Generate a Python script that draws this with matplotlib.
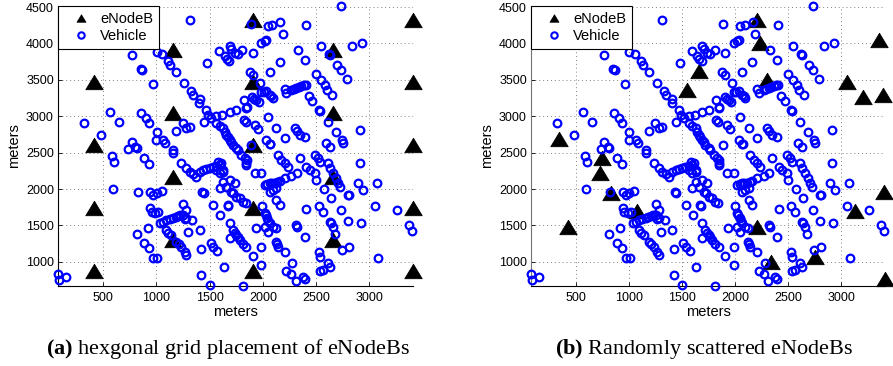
import matplotlib
matplotlib.use("Agg")
import matplotlib.pyplot as plt
from matplotlib.lines import Line2D
from matplotlib.path import Path

plt.rcParams['font.family'] = ['Liberation Sans', 'DejaVu Sans']
plt.rcParams['mathtext.fontset'] = 'custom'
plt.rcParams['mathtext.rm'] = 'Liberation Serif'
plt.rcParams['mathtext.bf'] = 'Liberation Serif:bold'

# Vehicle positions in meters (shared by both placements)
vehicles = [
    (1313, 4319), (766, 3837), (851, 3653), (862, 3632), (963, 3443),
    (1001, 3878), (1053, 3856), (1110, 3754), (1126, 3709), (1188, 3603), (1260, 3457),
    (1329, 3341), (1344, 3295), (1407, 3240), (1400, 3181), (1470, 3089), (1485, 3020), (1517, 2975),
    (1563, 2906), (1595, 2860), (1626, 2837), (1642, 2790), (1657, 2745), (1672, 2721), (1688, 2680),
    (1704, 2652), (1719, 2607), (1751, 2561), (1766, 2530), (1798, 2469), (1829, 2424), (1845, 2355),
    (1851, 2400), (1845, 2331),
    (1479, 3732), (1588, 3901),
    (1688, 3961), (1704, 3930), (1641, 3823), (1660, 3790), (1682, 3754), (1735, 3870), (1766, 3860), (1807, 3906),
    (1751, 3080), (1688, 3057), (1620, 3020), (1563, 2997), (1444, 2928),
    (319, 2914), (563, 3052), (647, 2924), (478, 2749),
    (854, 3044), (900, 2975), (931, 2914),
    (1001, 2782), (994, 2676), (1063, 2676), (1079, 2630),
    (766, 2644), (797, 2584), (734, 2552), (813, 2561),
    (1245, 2906), (1282, 2837), (1313, 2851), (1188, 2791), (1157, 2538), (1157, 2493),
    (584, 2455), (603, 2369), (882, 2424), (931, 2345), (1235, 2355),
    (1282, 2286), (1313, 2240), (1345, 2200), (1376, 2171), (1407, 2240), (1440, 2255), (1470, 2270),
    (1501, 2286), (1530, 2300), (1560, 2315), (1595, 2331), (1610, 2360), (1579, 2377), (1563, 2263),
    (1595, 2217), (1626, 2239),
    (594, 2001), (822, 1956), (938, 1964), (969, 1918), (1001, 1942), (1048, 1974),
    (1250, 1790), (1282, 1712),
    (938, 1735), (954, 1689), (985, 1666), (1016, 1689),
    (1032, 1537), (1063, 1550), (1094, 1574), (1125, 1585), (1157, 1597), (1180, 1610), (1203, 1629),
    (1225, 1640), (1250, 1643), (1282, 1606), (1266, 1590),
    (1338, 1574), (1407, 1436), (1297, 1413), (916, 1460), (813, 1377),
    (1094, 1436), (1110, 1391), (1141, 1368),
    (1188, 1275), (1210, 1240), (1235, 1207), (1266, 1138), (1282, 1092),
    (882, 1253), (931, 1184), (969, 1047), (1007, 1047),
    (1423, 1175), (1510, 1253), (1532, 1207), (1569, 1147),
    (1632, 923), (1423, 817), (1501, 675),
    (75, 831), (80, 748), (150, 785),
    (1430, 1960), (1444, 1942), (1532, 1781), (1601, 1643), (1595, 2011), (1672, 1781), (1688, 1529),
    (1688, 1331), (1690, 2125),
    (2736, 4515), (1885, 4273), (2048, 4236), (2089, 4259), (2164, 4296), (2189, 4131), (2401, 4250),
    (1986, 4007), (2017, 4030), (2033, 4043), (1907, 3870),
    (2329, 3915), (2392, 3777), (2157, 3745), (2064, 3603),
    (2548, 3961), (2620, 3856), (2632, 3843),
    (2698, 3709), (2736, 3630), (2789, 3516), (2839, 3961), (2933, 4007),
    (1876, 3603), (1907, 3571), (1970, 3457),
    (2501, 3585), (2542, 3502), (2580, 3424), (2601, 3355), (2648, 3286),
    (2204, 3374), (2220, 3319),
    (2267, 3364), (2290, 3375), (2314, 3387), (2340, 3398), (2361, 3410), (2385, 3425), (2401, 3433),
    (2432, 3273), (2464, 3203), (2526, 3080), (2532, 3068), (2611, 2919), (2683, 2782), (2745, 2676),
    (2751, 2639), (2595, 2630), (2626, 2584), (2914, 2805),
    (1986, 3328), (2010, 3335), (2033, 3341), (2064, 3290), (2080, 3272), (2095, 3250), (1939, 3226),
    (1920, 3240), (1901, 3263), (1960, 3200), (1820, 3217), (1845, 3112), (1850, 3125),
    (2048, 2988), (2126, 2837), (2204, 2700),
    (2298, 2837), (2320, 2791), (2345, 2745), (2392, 2713),
    (2033, 2680), (2070, 2617), (1923, 2883), (1954, 2823), (1820, 2942), (1839, 2928), (1885, 2600),
    (2064, 2621), (2142, 2469), (2173, 2400), (2204, 2355), (2236, 2308), (2345, 2424),
    (2408, 2308), (2439, 2263), (2486, 2217), (2501, 2125),
    (2486, 2469), (2517, 2424), (2533, 2378),
    (2611, 2355), (2626, 2286),
    (2908, 2355), (2658, 2217), (2689, 2148), (2705, 2080), (2727, 2033),
    (2798, 1918), (2810, 1925), (2892, 2080), (2939, 1988), (3075, 2085), (3049, 1772), (3261, 1712),
    (3371, 1505), (3400, 1420),
    (2573, 1996), (2642, 1871), (2523, 1767), (2564, 1689), (2408, 1721), (2730, 1712), (2798, 1565),
    (2923, 1537),
    (2626, 1551), (2642, 1529), (2658, 1482), (2673, 1381),
    (2526, 1138), (2539, 1061), (2611, 986), (2745, 1161), (2808, 1207), (3080, 1055),
    (2533, 872), (2564, 886), (2626, 923), (2392, 1336), (2314, 1505), (2323, 1474),
    (2204, 1129), (2276, 986), (2220, 876), (2267, 839), (2308, 739), (2376, 794), (2392, 771),
    (2120, 1275), (2133, 1243), (2142, 1198), (2126, 1850), (2157, 1781),
    (1995, 1767), (2017, 1675), (2030, 1640), (2042, 1597), (2050, 1560), (2064, 1529), (2095, 1474),
    (2120, 1460), (2017, 1482), (2048, 1413),
    (1932, 1460), (1986, 1198), (1907, 1078), (1986, 954), (1813, 668),
    (1719, 1436), (1735, 1400), (1751, 1368), (1766, 1335), (1782, 1299), (1813, 1244), (1845, 1207),
    (1673, 1767),
    (1626, 2101), (1657, 2033), (1704, 1964), (1720, 1940), (1735, 2080), (1751, 1895), (1782, 1872),
    (1813, 1826), (1838, 1804),
    (1626, 2263), (1923, 2217), (1986, 2217),
    (2017, 2056), (2040, 2070), (2064, 2080), (2085, 2085), (2111, 2089), (2135, 2100), (2157, 2115),
    (2204, 2148), (2267, 2180), (2320, 2217),
    (2064, 1964), (2095, 1988), (2126, 2011),
]
vehicle_x = [p[0] for p in vehicles]
vehicle_y = [p[1] for p in vehicles]

# eNodeB sites on a hexagonal grid
hex_x = [410, 410, 410, 410, 410,
         1160, 1160, 1160, 1160,
         1910, 1910, 1910, 1910, 1910,
         2660, 2660, 2660, 2660,
         3410, 3410, 3410, 3410, 3410]
hex_y = [870, 1735, 2600, 3470, 4320,
         1305, 2170, 3040, 3905,
         870, 1735, 2600, 3470, 4320,
         1305, 2170, 3040, 3905,
         870, 1735, 2600, 3470, 4320]

# eNodeB sites scattered at random
rand_x = [341, 741, 725, 825, 1076, 419, 1654, 1545, 2201, 2232, 2295,
          2201, 2336, 2748, 3130, 3405, 3411, 3358, 3055, 3202, 3390]
rand_y = [2685, 2424, 2226, 1950, 1698, 1474, 3616, 3355, 4319, 4007, 3502,
          1474, 1000, 1069, 1702, 1964, 758, 4053, 3465, 3264, 3295]

x_ticks = [500, 1000, 1500, 2000, 2500, 3000]
y_ticks = [1000, 1500, 2000, 2500, 3000, 3500, 4000, 4500]

captions = [r'$\mathbf{(a)}$ hexgonal grid placement of eNodeBs',
            r'$\mathbf{(b)}$ Randomly scattered eNodeBs']

W, H = 893, 366
fig = plt.figure(figsize=(W / 100, H / 100), dpi=100)
ax_a = fig.add_axes([58 / W, 80 / H, 355 / W, 280 / H])
ax_b = fig.add_axes([531 / W, 80 / H, 354 / W, 280 / H])

# flattened upward triangle, like the MATLAB '^' marker
tri = Path([(0, 0.83), (-1, -0.83), (1, -0.83), (0, 0.83)], closed=True)


def draw_panel(ax, enb_x, enb_y, left_spine_color):
    ax.plot(enb_x, enb_y, ls='none', marker=tri, ms=12.5, mfc='black',
            mec='black', mew=0.6, clip_on=False, zorder=3)
    ax.plot(vehicle_x, vehicle_y, ls='none', marker='o', ms=5.5, mfc='none',
            mec='#0000ff', mew=1.6, clip_on=False, zorder=4)
    ax.margins(0)
    ax.set_xticks(x_ticks)
    ax.set_yticks(y_ticks)
    ax.grid(True, ls=(0, (1, 3)), color='0.5', lw=0.7)
    ax.set_axisbelow(True)
    for s in ('top', 'right'):
        ax.spines[s].set_visible(False)
    ax.spines['left'].set_color(left_spine_color)
    ax.spines['bottom'].set_color('black')
    for s in ('left', 'bottom'):
        ax.spines[s].set_linewidth(0.8)
    ax.tick_params(direction='in', length=3, width=0.6, labelsize=9)
    ax.tick_params(axis='x', pad=4)
    ax.tick_params(axis='y', pad=3)
    ax.set_xlabel('meters', fontsize=10.5)
    ax.xaxis.set_label_coords(0.5, -0.068)
    ax.set_ylabel('meters', fontsize=10.5)
    ax.yaxis.set_label_coords(-0.105, 0.5)

    handles = [
        Line2D([], [], ls='none', marker=tri, ms=6.5, mfc='black', mec='black', mew=0.5),
        Line2D([], [], ls='none', marker='o', ms=4.6, mfc='none', mec='#0000ff', mew=1.5),
    ]
    leg = ax.legend(handles, ['eNodeB', 'Vehicle'], loc='upper left',
                    bbox_to_anchor=(0, 1), borderaxespad=0, fontsize=10.5,
                    fancybox=False, edgecolor='black', framealpha=1,
                    borderpad=0.4, handlelength=2.3, handletextpad=0.2,
                    labelspacing=0.25)
    leg.get_frame().set_linewidth(0.8)


draw_panel(ax_a, hex_x, hex_y, 'black')
draw_panel(ax_b, rand_x, rand_y, '0.45')

fig.text(46 / W, 1 - 354 / H, captions[0], fontsize=16,
         family='Liberation Serif', ha='left', va='baseline')
fig.text(555 / W, 1 - 354 / H, captions[1], fontsize=16,
         family='Liberation Serif', ha='left', va='baseline')

fig.savefig('out.png', dpi=100)
